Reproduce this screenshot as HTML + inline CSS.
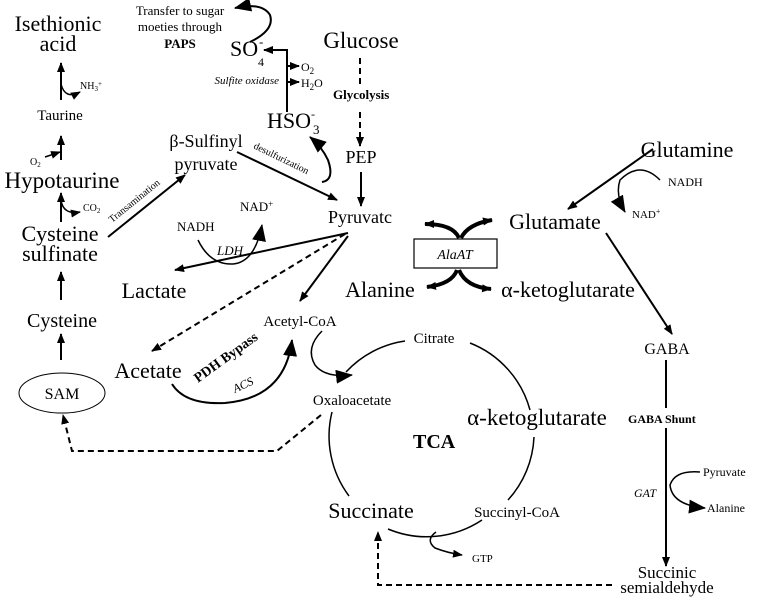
<!DOCTYPE html>
<html><head><meta charset="utf-8"><style>
html,body{margin:0;padding:0;background:#fff}
svg{display:block}
text{font-family:"Liberation Serif",serif;fill:#000}
</style></head><body>
<svg width="757" height="604" viewBox="0 0 757 604" xmlns="http://www.w3.org/2000/svg">
<defs>
<marker id="a" markerWidth="10" markerHeight="8" refX="9" refY="4" orient="auto" markerUnits="userSpaceOnUse"><path d="M0,0 L10,4 L0,8 z" fill="#000"/></marker>
<marker id="b" markerWidth="18" markerHeight="14" refX="16" refY="7" orient="auto" markerUnits="userSpaceOnUse"><path d="M0,0 L17,7 L0,14 z" fill="#000"/></marker>
</defs>
<g stroke="#000" fill="none" stroke-width="2">
<line x1="61" y1="100" x2="61" y2="63" marker-end="url(#a)"/>
<path d="M61,84 Q65,100 80,92" stroke-width="1.5" marker-end="url(#a)"/>
<line x1="61" y1="160" x2="61" y2="136" marker-end="url(#a)"/>
<line x1="45" y1="157" x2="60" y2="152" stroke-width="1.5" marker-end="url(#a)"/>
<line x1="61" y1="222" x2="61" y2="193" marker-end="url(#a)"/>
<path d="M61,200 Q63,215 80,212" stroke-width="1.5" marker-end="url(#a)"/>
<line x1="61" y1="300" x2="61" y2="272" marker-end="url(#a)"/>
<line x1="61" y1="360" x2="61" y2="334" marker-end="url(#a)"/>
<ellipse cx="62" cy="393" rx="43" ry="20" stroke-width="1"/>
<line x1="108" y1="237" x2="185" y2="175" marker-end="url(#a)"/>
<line x1="237" y1="152" x2="337" y2="200" marker-end="url(#a)"/>
<path d="M322,182 Q335,180 328,160 Q322,147 310,137" marker-end="url(#b)"/>
<path d="M287,112 L287,50 L264,50" marker-end="url(#a)"/>
<line x1="287" y1="66" x2="299" y2="66" marker-end="url(#a)"/>
<line x1="287" y1="82" x2="299" y2="82" marker-end="url(#a)"/>
<path d="M250,42 Q275,30 270,15 Q262,2 235,8" marker-end="url(#b)"/>
<line x1="360" y1="58" x2="360" y2="84" stroke-dasharray="6,4"/>
<line x1="360" y1="112" x2="360" y2="146" stroke-dasharray="6,4" marker-end="url(#a)"/>
<line x1="361" y1="172" x2="361" y2="206" marker-end="url(#a)"/>
<line x1="348" y1="233" x2="175" y2="270" marker-end="url(#a)"/>
<path d="M198,240 Q210,265 233,264 Q255,262 262,225" stroke-width="1.5" marker-end="url(#b)"/>
<line x1="345" y1="234" x2="152" y2="351" stroke-dasharray="6,4" marker-end="url(#a)"/>
<line x1="348" y1="236" x2="300" y2="301" marker-end="url(#a)"/>
<path d="M172,384 Q185,405 225,403 Q285,398 292,340" marker-end="url(#b)"/>
<path d="M322,331 Q305,348 315,365 Q325,378 352,375" stroke-width="1.5" marker-end="url(#b)"/>
<path d="M321,415 L277,451 L72,451 L63,415" stroke-dasharray="6,4" marker-end="url(#a)"/>
<path d="M346,372 A100,100 0 0 1 405,341" stroke-width="1.5"/>
<path d="M470,343 A100,100 0 0 1 530,410" stroke-width="1.5"/>
<path d="M534,437 A100,100 0 0 1 508,500" stroke-width="1.5"/>
<path d="M482,520 A100,100 0 0 1 388,529" stroke-width="1.5"/>
<path d="M349,496 A100,100 0 0 1 332,412" stroke-width="1.5"/>
<path d="M436,532 Q425,540 435,548 Q448,553 462,555" stroke-width="1.5" marker-end="url(#a)"/>
<path d="M612,585 L378,585 L378,532" stroke-dasharray="6,4" marker-end="url(#a)"/>
<line x1="653" y1="149" x2="568" y2="209" marker-end="url(#a)"/>
<path d="M660,180 Q640,160 620,180 Q615,195 625,212" stroke-width="1.5" marker-end="url(#b)"/>
<line x1="606" y1="233" x2="672" y2="334" marker-end="url(#a)"/>
<line x1="666" y1="360" x2="666" y2="408"/>
<line x1="666" y1="428" x2="666" y2="566" marker-end="url(#a)"/>
<path d="M700,472 Q675,470 670,485 Q672,505 705,508" stroke-width="1.5" marker-end="url(#b)"/>
<rect x="414" y="239" width="83" height="29" stroke-width="1.2"/>
<path d="M459,238 Q453,224 425,224" stroke-width="4" marker-end="url(#a)"/>
<path d="M461,238 Q468,224 492,220" stroke-width="4" marker-end="url(#a)"/>
<path d="M457,270 Q452,284 427,287" stroke-width="4" marker-end="url(#a)"/>
<path d="M459,270 Q466,287 491,289" stroke-width="4" marker-end="url(#a)"/>
</g>
<g font-size="22" text-anchor="middle">
<text x="58" y="31">Isethionic</text>
<text x="58" y="51">acid</text>
<text x="62" y="188" font-size="23">Hypotaurine</text>
<text x="60" y="241">Cysteine</text>
<text x="60" y="261">sulfinate</text>
<text x="62" y="327" font-size="20">Cysteine</text>
<text x="361" y="48" font-size="23">Glucose</text>
<text x="361" y="163" font-size="18">PEP</text>
<text x="360" y="223" font-size="18">Pyruvatc</text>
<text x="154" y="298">Lactate</text>
<text x="148" y="378">Acetate</text>
<text x="380" y="297">Alanine</text>
<text x="568" y="297">α-ketoglutarate</text>
<text x="555" y="229">Glutamate</text>
<text x="687" y="157">Glutamine</text>
<text x="537" y="425" font-size="23">α-ketoglutarate</text>
<text x="371" y="518">Succinate</text>
</g>
<g font-size="15" text-anchor="middle">
<text x="60" y="120">Taurine</text>
<text x="206" y="147" font-size="18">β-Sulfinyl</text>
<text x="206" y="170" font-size="18">pyruvate</text>
<text x="300" y="326">Acetyl-CoA</text>
<text x="434" y="343">Citrate</text>
<text x="352" y="405">Oxaloacetate</text>
<text x="517" y="517">Succinyl-CoA</text>
<text x="667" y="354" font-size="16">GABA</text>
<text x="667" y="578" font-size="17">Succinic</text>
<text x="667" y="593" font-size="17">semialdehyde</text>
<text x="62" y="399" font-size="16">SAM</text>
<text x="455" y="259" font-style="italic" font-size="14">AlaAT</text>
</g>
<text x="267" y="128" font-size="22">HSO</text>
<text x="311" y="118" font-size="12">-</text>
<text x="313" y="134" font-size="13">3</text>
<text x="230" y="56" font-size="22">SO</text>
<text x="258" y="66" font-size="12">4</text>
<text x="259" y="46" font-size="13">-</text>
<g font-size="12">
<text x="180" y="15" text-anchor="middle" font-size="13">Transfer to sugar</text>
<text x="180" y="31" text-anchor="middle" font-size="13">moeties through</text>
<text x="180" y="48" text-anchor="middle" font-weight="bold" font-size="13">PAPS</text>
<text x="301" y="71">O<tspan font-size="9" dy="3">2</tspan></text>
<text x="301" y="87">H<tspan font-size="9" dy="3">2</tspan><tspan dy="-3">O</tspan></text>
<text x="279" y="84" text-anchor="end" font-style="italic" font-size="11">Sulfite oxidase</text>
<text x="333" y="99" font-weight="bold" font-size="13">Glycolysis</text>
<text x="80" y="89" font-size="10">NH<tspan font-size="7" dy="2">3</tspan><tspan font-size="7" dy="-5">+</tspan></text>
<text x="30" y="165" font-size="10">O<tspan font-size="7" dy="2">2</tspan></text>
<text x="83" y="211" font-size="10">CO<tspan font-size="7" dy="2">2</tspan></text>
<text x="177" y="231" font-size="13">NADH</text>
<text x="240" y="211" font-size="13">NAD<tspan dy="-4" font-size="9">+</tspan></text>
<text x="217" y="255" font-style="italic" font-size="13">LDH</text>
<text x="0" y="0" font-size="10" transform="translate(112,223) rotate(-39)">Transamination</text>
<text x="0" y="0" font-size="10" transform="translate(253,148) rotate(26)">desulfurization</text>
<text x="0" y="0" font-weight="bold" font-size="14" transform="translate(198,383) rotate(-36)">PDH Bypass</text>
<text x="0" y="0" font-style="italic" font-size="12" transform="translate(235,393) rotate(-25)">ACS</text>
<text x="413" y="448" font-weight="bold" font-size="20">TCA</text>
<text x="472" y="562" font-size="11">GTP</text>
<text x="668" y="186" font-size="12">NADH</text>
<text x="632" y="218" font-size="11">NAD<tspan dy="-4" font-size="8">+</tspan></text>
<text x="628" y="423" font-weight="bold" font-size="12">GABA Shunt</text>
<text x="634" y="497" font-style="italic" font-size="12">GAT</text>
<text x="703" y="476" font-size="12">Pyruvate</text>
<text x="707" y="512" font-size="12">Alanine</text>
</g>
</svg>
</body></html>
